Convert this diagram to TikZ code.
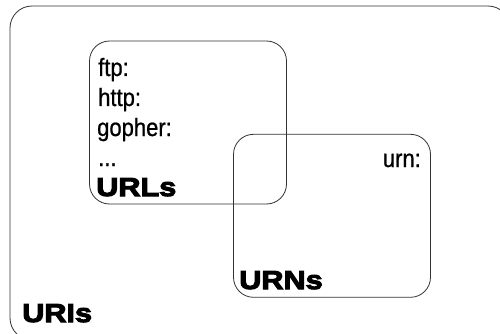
\documentclass[tikz,border=0pt]{standalone}
\usepackage{fontspec}
\setmainfont{Liberation Sans}
\newfontfamily\schemefont[FakeStretch=0.88,FakeBold=0.8]{Liberation Sans}
\newfontfamily\heavyfont[FakeStretch=1.18,FakeBold=4]{Liberation Sans Bold}
\tikzset{
  venn/.style={draw=black!80, line width=0.8pt, rounded corners=20pt,
    inner sep=0pt, minimum width=197pt, minimum height=163pt},
  scheme/.style={anchor=base west, inner sep=0pt,
    font=\schemefont\fontsize{25}{25}\selectfont},
  setname/.style={anchor=base west, inner sep=0pt,
    font=\heavyfont\fontsize{26}{26}\selectfont}
}
\begin{document}
\begin{tikzpicture}[x=1pt,y=-1pt]
  \useasboundingbox (0,0) rectangle (500,334);
  \clip (0,0) rectangle (500,334);
  \fill[white] (0,0) rectangle (500,334);
  % outer set, running past the page edge on the right and bottom
  \node[venn, minimum width=500pt, minimum height=334pt, rounded corners=22pt]
    (uris) at (260,173) {};
  % inner sets
  \node[venn] (urls) at (188,122.5) {};
  \node[venn] (urns) at (332,215.8) {};
  % scheme names
  \node[scheme] (ftp) at (98,76) {ftp:};
  \node[scheme] (http) at (98,106) {http:};
  \node[scheme] (gopher) at (97,136) {gopher:};
  \node[scheme] (dots) at (98,166) {...};
  \node[scheme, anchor=base east] (urn) at (421,167) {urn:};
  % set labels
  \node[setname] (lurls) at (96,196) {URLs};
  \node[setname] (lurns) at (239,289) {URNs};
  \node[setname] (luris) at (22,322) {URIs};
\end{tikzpicture}
\end{document}
